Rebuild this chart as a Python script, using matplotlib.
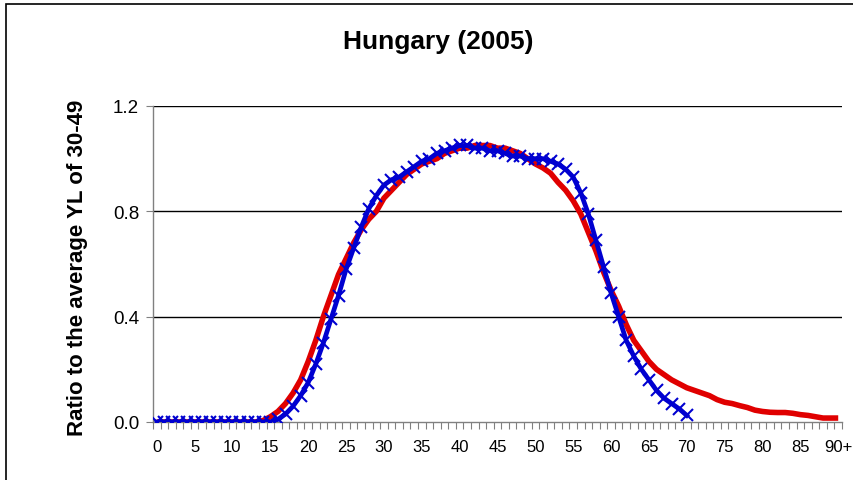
import numpy as np
import matplotlib
matplotlib.use("Agg")
import matplotlib.pyplot as plt
from matplotlib.patches import Rectangle
from matplotlib.ticker import FixedLocator

plt.rcParams['font.family'] = ['Liberation Sans', 'DejaVu Sans']

# ages 0..90 (last one is 90+)
ages = list(range(91))
xlabels = [str(a) for a in range(0, 90, 5)] + ['90+']

red = [0]*14 + [
    0.005, 0.02, 0.04, 0.07, 0.11, 0.16, 0.23, 0.31, 0.40, 0.48,   # 14-23
    0.56, 0.62, 0.68, 0.73, 0.77, 0.80, 0.85, 0.88, 0.91, 0.94,     # 24-33
    0.96, 0.98, 0.99, 1.00, 1.02, 1.03, 1.04, 1.04, 1.05, 1.05,     # 34-43
    1.05, 1.04, 1.04, 1.03, 1.02, 1.00, 0.98, 0.965, 0.945, 0.91,   # 44-53
    0.88, 0.84, 0.79, 0.72, 0.65, 0.57, 0.50, 0.44, 0.37, 0.31,     # 54-63
    0.27, 0.23, 0.20, 0.18, 0.16, 0.145, 0.13, 0.12, 0.11, 0.10,    # 64-73
    0.085, 0.075, 0.07, 0.062, 0.055, 0.045, 0.04, 0.037, 0.036, 0.036,  # 74-83
    0.033, 0.028, 0.025, 0.02, 0.015, 0.015, 0.015]                 # 84-90

blue = [0]*15 + [
    0.0, 0.01, 0.03, 0.06, 0.10, 0.15, 0.22, 0.30, 0.39, 0.48,      # 15-24
    0.58, 0.66, 0.74, 0.81, 0.86, 0.90, 0.92, 0.93, 0.95, 0.97,     # 25-34
    0.99, 1.00, 1.02, 1.03, 1.04, 1.05, 1.05, 1.04, 1.04, 1.03,     # 35-44
    1.03, 1.02, 1.01, 1.01, 1.00, 1.00, 1.00, 0.99, 0.98, 0.96,     # 45-54
    0.93, 0.87, 0.79, 0.69, 0.59, 0.49, 0.40, 0.31, 0.25, 0.20,     # 55-64
    0.16, 0.12, 0.09, 0.07, 0.05, 0.025]                            # 65-70
blue_ages = ages[:len(blue)]

fig = plt.figure(figsize=(8.54, 4.81), dpi=100)
ax = fig.add_axes([153/854, 1 - 423/481, (842 - 153)/854, (423 - 107)/481])

ax.plot(ages, red, color='#e00000', linewidth=4, solid_capstyle='butt', zorder=3)
ax.plot(blue_ages, blue, color='#0000d0', linewidth=3.4, marker='x',
        markersize=9, markeredgewidth=1.5, zorder=4)

ax.set_xlim(-0.5, 90.5)
ax.set_ylim(0, 1.2)
ax.set_yticks([0, 0.4, 0.8, 1.2])
ax.set_yticklabels(['0.0', '0.4', '0.8', '1.2'])
ax.set_xticks(list(range(0, 91, 5)))
ax.set_xticklabels(xlabels)
ax.xaxis.set_minor_locator(FixedLocator(np.arange(-0.5, 91, 1)))
ax.tick_params(axis='x', which='major', length=0, pad=12, labelsize=12)
ax.tick_params(axis='x', which='minor', length=5, width=0.8, color='#808080')
ax.tick_params(axis='y', which='major', length=5, width=0.8, color='#808080',
               labelsize=13.5, pad=5)

for v in [0.4, 0.8, 1.2]:
    ax.axhline(v, color='black', linewidth=1, zorder=1)

for s in ['top', 'right']:
    ax.spines[s].set_visible(False)
for s in ['left', 'bottom']:
    ax.spines[s].set_color('#808080')
    ax.spines[s].set_linewidth(1)
ax.spines['bottom'].set_zorder(2)

ax.set_ylabel('Ratio to the average YL of 30-49', fontsize=16, fontweight='bold')
ax.yaxis.set_label_coords((88 - 153)/689, 0.49)
fig.text(438/854, 1 - 42/481, 'Hungary (2005)', fontsize=19, fontweight='bold',
         ha='center', va='center')

fig.patches.append(Rectangle((6/854, -0.1), 1.2, 1 - 5/481 + 0.1, transform=fig.transFigure,
                             fill=False, edgecolor='black', linewidth=1.2))

fig.savefig('out.png', dpi=100)
